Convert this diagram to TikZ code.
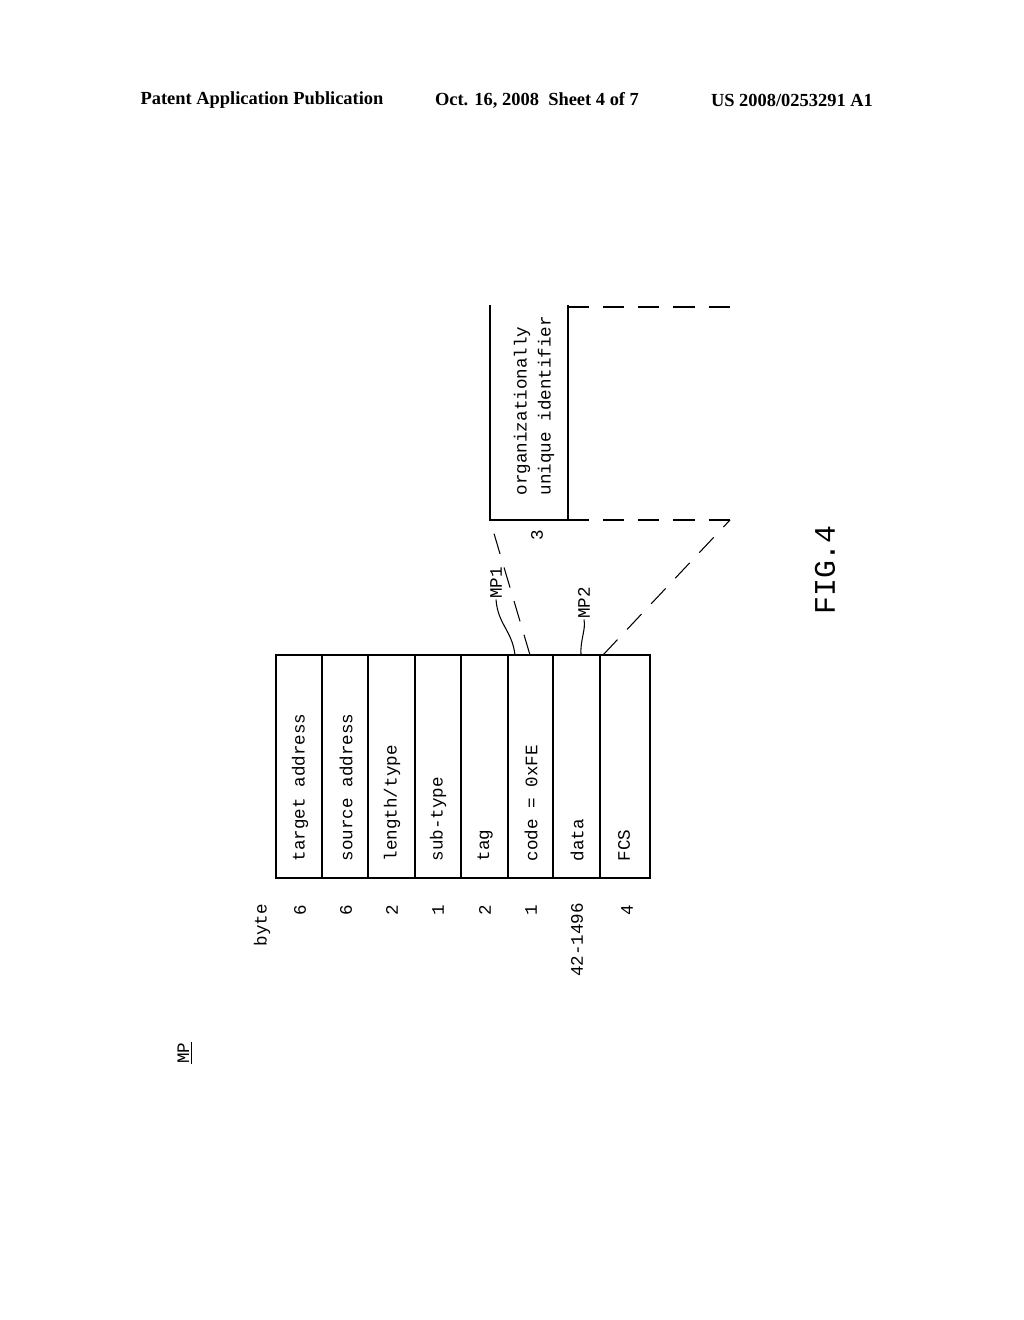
\documentclass[tikz,border=0pt]{standalone}
\usepackage{fontspec}
\setmainfont{Liberation Serif}
\newfontfamily\monofont{Liberation Mono}
\usetikzlibrary{arrows}

\begin{document}
\begin{tikzpicture}[x=0.02cm,y=-0.02cm,thick,
  field node/.style={rotate=90,anchor=west,font=\monofont\fontsize{10}{12}\selectfont,inner sep=0pt},
  byte node/.style={rotate=90,font=\monofont\fontsize{10}{12}\selectfont,inner sep=0pt},
  cut line/.style={dashed,dash pattern=on 12pt off 8pt,semithick}]
  \useasboundingbox (0,0) rectangle (1024,1320);
  % header
  \node[font=\bfseries\fontsize{10.5}{12}\selectfont] (hd1) at (262,100) {Patent Application Publication};
  \node[font=\bfseries\fontsize{10.5}{12}\selectfont] (hd2) at (537,100) {Oct. 16, 2008\enspace Sheet 4 of 7};
  \node[font=\bfseries\fontsize{10.5}{12}\selectfont] (hd3) at (792,100) {US 2008/0253291 A1};

  % frame
  \draw (276,655) rectangle (650,878);
  \foreach \x in {322,368,415,461,508,553,600}
    \draw (\x,655) -- (\x,878);
  \node[field node] (f1) at (300,862) {target address};
  \node[field node] (f2) at (346,862) {source address};
  \node[field node] (f3) at (392,862) {length/type};
  \node[field node] (f4) at (438,862) {sub-type};
  \node[field node] (f5) at (485,862) {tag};
  \node[field node] (f6) at (531,862) {code = 0xFE};
  \node[field node] (f7) at (577,862) {data};
  \node[field node] (f8) at (624,862) {FCS};

  % byte counts
  \node[byte node] (b0) at (262,925) {byte};
  \node[byte node] (b1) at (300,910) {6};
  \node[byte node] (b2) at (346,910) {6};
  \node[byte node] (b3) at (392,910) {2};
  \node[byte node] (b4) at (438,910) {1};
  \node[byte node] (b5) at (485,910) {2};
  \node[byte node] (b6) at (531,910) {1};
  \node[byte node] (b7) at (577,940) {42-1496};
  \node[byte node] (b8) at (627,910) {4};

  \node[byte node] (mp) at (185,1053) {\underline{MP}};

  % leaders
  \coordinate (p1) at (515,655);
  \coordinate (p2) at (581,655);
  \node[byte node] (mp1) at (496,583) {MP1};
  \node[byte node] (mp2) at (584,603) {MP2};
  \draw[semithick] (p1) .. controls (512,630) and (498,625) .. (mp1.west);
  \draw[semithick] (p2) .. controls (580,640) and (586,630) .. (mp2.west);

  % expanded field
  \coordinate (c1) at (530,655);
  \coordinate (c2) at (603,655);
  \coordinate (o1) at (490,520);
  \coordinate (o2) at (568,520);
  \coordinate (o3) at (730,520);
  \draw (490,305) -- (o1) -- (o2) -- (568,305);
  \draw[cut line] (c1) -- (o1);
  \draw[cut line] (c2) -- (o3);
  \draw[cut line] (o2) -- (o3);
  \draw[cut line] (568,307) -- (735,307);
  \node[field node] (oui1) at (522,496) {organizationally};
  \node[field node] (oui2) at (546,496) {unique identifier};
  \node[byte node] (b9) at (537,535) {3};

  \node[rotate=90,font=\monofont\fontsize{17}{20}\selectfont] (fig) at (825,570) {FIG.4};
\end{tikzpicture}
\end{document}
